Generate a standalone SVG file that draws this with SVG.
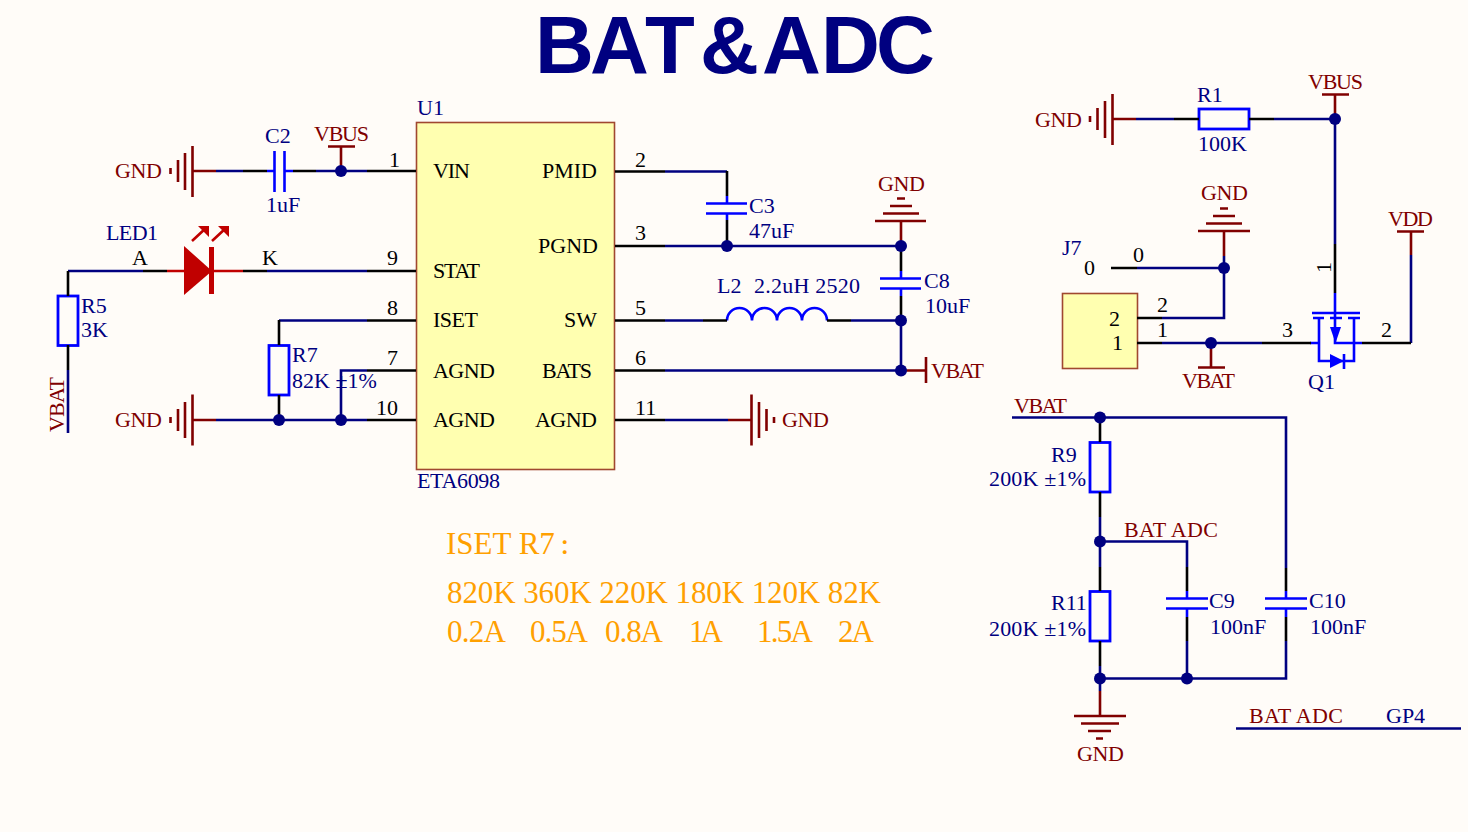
<svg xmlns="http://www.w3.org/2000/svg" width="1468" height="832" viewBox="0 0 1468 832">
<style>
text{font-family:"Liberation Serif","Noto Sans CJK SC",serif;font-size:22px}
.d{fill:#000080}.r{fill:#800000}.k{fill:#000}.o{fill:#FFA000;font-size:31px}
.m{text-anchor:middle}.e{text-anchor:end}
.w,.p,.b,.g,.l{fill:none;stroke-linecap:butt}
.w{stroke:#000080;stroke-width:2.6}
.p{stroke:#000;stroke-width:2.6}
.b{stroke:#0000FF;stroke-width:2.6}
.g{stroke:#800000;stroke-width:2.6}
.l{stroke:#C00000;stroke-width:2.6}
.j{fill:#000080}
.ic{fill:#FFFFB0;stroke:#A04830;stroke-width:1.6}
.res{fill:none;stroke:#0000FF;stroke-width:2.8}
</style>
<rect id="background" width="1468" height="832" fill="#FFFCF8"/>
<text id="title" x="535 590 645 700 762 821 876" y="73" fill="#000080" style="font-family:'Liberation Sans',sans-serif;font-weight:bold;font-size:81.500px">BAT&amp;ADC</text>

<g id="U1">
<rect class="ic" x="416.500" y="122.500" width="198" height="347"/>
<text class="d" x="417" y="115">U1</text>
<text class="d" x="417" y="488" textLength="83">ETA6098</text>
<text class="k" x="433" y="177.500" textLength="37">VIN</text><text class="k" x="433" y="278" textLength="47">STAT</text><text class="k" x="433" y="327" textLength="45">ISET</text><text class="k" x="433" y="377.500" textLength="62">AGND</text><text class="k" x="433" y="427" textLength="62">AGND</text>
<text class="k e" x="597" y="177.500">PMID</text><text class="k" x="538" y="252.500" textLength="60">PGND</text><text class="k e" x="597" y="327">SW</text><text class="k" x="542" y="377.500" textLength="50">BATS</text><text class="k" x="535" y="427" textLength="62">AGND</text>
<text class="k" x="389" y="167">1</text><text class="k" x="387" y="265">9</text><text class="k" x="387" y="315">8</text><text class="k" x="387" y="365">7</text><text class="k" x="376" y="415">10</text>
<text class="k" x="635" y="167">2</text><text class="k" x="635" y="240">3</text><text class="k" x="635" y="315">5</text><text class="k" x="635" y="365">6</text><text class="k" x="635" y="415">11</text>
</g>

<g id="GND1"><path class="g" d="M192 171H216M192.500 146V197M185 153V190M178 160V182M170.500 168V174"/><text class="r" x="115" y="178" textLength="47">GND</text></g>
<g id="C2"><path class="b" d="M267 171H274M284 171H293M274.500 151V192M284.500 151V192"/><text class="d" x="265" y="143">C2</text><text class="d" x="266" y="212">1uF</text></g>
<g id="VBUS1"><path class="g" d="M341 171V146.500M328 146.500H355"/><text class="r" x="314" y="141" textLength="55">VBUS</text></g>
<g id="LED1"><path class="l" d="M167 271H243"/><path d="M184 246L212 271L184 295Z" fill="#C00000"/><rect x="209" y="247" width="5" height="47" fill="#C00000"/><path class="l" d="M192 241L206 228M212 241L226 228"/><path d="M198 226H209V237ZM218 226H229V237Z" fill="#C00000"/><text class="d" x="106" y="240" textLength="52">LED1</text><text class="k" x="132" y="265">A</text><text class="k" x="262" y="265">K</text></g>
<g id="R5"><rect class="res" x="58" y="296" width="20" height="49.500"/><text class="d" x="81" y="313">R5</text><text class="d" x="81" y="337">3K</text></g>
<g id="VBAT1"><text class="r" transform="translate(64 432) rotate(-90)" textLength="55">VBAT</text></g>
<g id="R7"><rect class="res" x="269" y="345.500" width="20" height="49.500"/><text class="d" x="292" y="362">R7</text><text class="d" x="292" y="388">82K ±1%</text></g>
<g id="GND2"><path class="g" d="M192 420H216M192.500 394.500V445.500M185 402V438M178 409V431M170.500 417V423"/><text class="r" x="115" y="427" textLength="47">GND</text></g>
<g id="C3"><path class="b" d="M727 196V203M727 213V220M706 203.500H747M706 213.500H747"/><text class="d" x="749" y="213">C3</text><text class="d" x="749" y="238">47uF</text></g>
<g id="GND3"><path class="g" d="M901 246V221M875 221H926M883 213.500H919M890 206H912M897 198.500H905"/><text class="r" x="878" y="191" textLength="47">GND</text></g>
<g id="C8"><path class="b" d="M901 271V278M901 288V296M880 278.500H921M880 288.500H921"/><text class="d" x="924" y="288">C8</text><text class="d" x="925" y="313">10uF</text></g>
<g id="L2"><path class="b" d="M727 320.500a12.500 12.500 0 0 1 25 0a12.500 12.500 0 0 1 25 0a12.500 12.500 0 0 1 25 0a12.500 12.500 0 0 1 25 0"/><text class="d" x="717" y="293">L2</text><text class="d" x="754" y="293" textLength="106">2.2uH 2520</text></g>
<g id="VBAT2"><path class="g" d="M901 370.500H926M926 357V383"/><text class="r" x="931" y="378" textLength="53">VBAT</text></g>
<g id="GND4"><path class="g" d="M728 420H751M751.500 394.500V445.500M759 402V438M766.500 409V431M774 417V423"/><text class="r" x="782" y="427" textLength="47">GND</text></g>

<g id="GND5"><path class="g" d="M1112 119H1136M1112.500 94V145M1105 101V138M1097.500 108V130M1090 116V122"/><text class="r" x="1035" y="127" textLength="47">GND</text></g>
<g id="R1"><rect class="res" x="1199" y="109" width="50" height="20"/><text class="d" x="1197" y="102">R1</text><text class="d" x="1198" y="151">100K</text></g>
<g id="VBUS2"><path class="g" d="M1335 119V94.500M1322 94.500H1349"/><text class="r" x="1308" y="89" textLength="55">VBUS</text></g>
<g id="GND6"><path class="g" d="M1224 256V231M1198 231H1250M1206 223.500H1242M1213 216H1235M1220 208.500H1228"/><text class="r" x="1201" y="200" textLength="47">GND</text></g>
<g id="J7"><rect class="ic" x="1062.500" y="293.500" width="75" height="75"/><text class="d" x="1062" y="255">J7</text><text class="k" x="1084" y="275">0</text><text class="k" x="1133" y="262">0</text><text class="k" x="1157" y="312">2</text><text class="k" x="1157" y="337">1</text><text class="k" x="1109" y="326">2</text><text class="k" x="1112" y="350">1</text></g>
<g id="VBAT3"><path class="g" d="M1211 343V367.500M1198 367.500H1225"/><text class="r" x="1182" y="388" textLength="53">VBAT</text></g>
<g id="Q1"><path class="b" d="M1335 293V343H1362M1312 313H1360M1313 318H1324M1330 318H1342M1348 318H1360M1310 343H1319M1319 318V361H1354V318M1344 354V369"/><path d="M1330 327H1341L1335.500 343ZM1330 354L1344 361L1330 368Z" fill="#0000FF"/><text class="d" x="1308" y="389">Q1</text><text class="k" x="1282" y="337">3</text><text class="k" x="1381" y="337">2</text><text class="k" transform="translate(1331 273) rotate(-90)">1</text></g>
<g id="VDD"><path class="g" d="M1411 255V231.500M1397 231.500H1424"/><text class="r" x="1388" y="226" textLength="45">VDD</text></g>
<g id="VBAT4"><text class="r" x="1014" y="413" textLength="53">VBAT</text></g>
<g id="R9"><rect class="res" x="1090" y="442.500" width="20" height="49.500"/><text class="d" x="1051" y="462">R9</text><text class="d" x="989" y="486" textLength="97">200K ±1%</text></g>
<g id="BAT_ADC1"><text class="r" x="1124" y="537" textLength="94">BAT ADC</text></g>
<g id="R11"><rect class="res" x="1090" y="591.500" width="20" height="49.500"/><text class="d" x="1051" y="610">R11</text><text class="d" x="989" y="636" textLength="97">200K ±1%</text></g>
<g id="C9"><path class="b" d="M1187 591V598M1187 608V617M1166 598.500H1208M1166 608.500H1208"/><text class="d" x="1209" y="608">C9</text><text class="d" x="1210" y="634">100nF</text></g>
<g id="C10"><path class="b" d="M1286 591V598M1286 608V617M1265 598.500H1307M1265 608.500H1307"/><text class="d" x="1309" y="608">C10</text><text class="d" x="1310" y="634">100nF</text></g>
<g id="GND7"><path class="g" d="M1100 691V716M1074 716H1126M1081 723.500H1119M1088 731H1111M1096 738.500H1103"/><text class="r" x="1077" y="761" textLength="47">GND</text></g>
<g id="net-label"><text class="r" x="1249" y="723" textLength="94">BAT ADC</text><text class="d" x="1386" y="723">GP4</text></g>

<g id="notes">
<text class="o" x="446" y="554">ISET R7<tspan style="font-size:20px;font-weight:bold" dx="5">：</tspan></text>
<text class="o" x="447" y="603" textLength="434">820K 360K 220K 180K 120K 82K</text>
<text class="o" x="447" y="642" textLength="59">0.2A</text><text class="o" x="530" y="642" textLength="58">0.5A</text><text class="o" x="605" y="642" textLength="58">0.8A</text><text class="o" x="689" y="642" textLength="34">1A</text><text class="o" x="757" y="642" textLength="56">1.5A</text><text class="o" x="838" y="642" textLength="36">2A</text>
</g>

<g id="connectors">
<path class="w" d="M216 171H243M316 171H367M68 271H143M68 370V433M267 271H367M279 320.500H367M341 420V370.500H367M216 420H367"/>
<path class="w" d="M665 171.500H727M665 246H901M665 320.500H703M851 320.500H901M901 320V370M665 370.500H901M665 420H728"/>
<path class="w" d="M1136 119H1174M1274 119H1335M1335 119V244M1162 343H1262M1162 318H1224V268M1137 268H1224M1411 343V255M1224 256V268"/>
<path class="w" d="M1012 417.500H1286V568M1286 641V678.500H1100M1100 517V567M1100 541.500H1187V567M1187 641V678M1100 666V691M1236 728.500H1461"/>
<path class="p" d="M243 171H267M293 171H316M367 171H416M143 271H167M243 271H267M367 271H416M367 320.500H416M367 370.500H416M367 420H416"/>
<path class="p" d="M68 271V296M68 345V370M279 320V345M279 395V420"/>
<path class="p" d="M615 171.500H665M615 246H665M615 320.500H665M615 370.500H665M615 420H665M727 171V196M727 220V246M901 246V271M901 296V320M703 320.500H727M827 320.500H851"/>
<path class="p" d="M1174 119H1199M1249 119H1274M1335 244V293M1111 268H1137M1137 318H1162M1137 343H1162M1262 343H1311M1362 343H1411"/>
<path class="p" d="M1100 417V442M1100 492V517M1100 567V591M1100 641V666M1187 567V591M1187 617V641M1286 568V591M1286 617V641"/>
<circle class="j" cx="341" cy="171" r="6"/>
<circle class="j" cx="279" cy="420" r="6"/>
<circle class="j" cx="341" cy="420" r="6"/>
<circle class="j" cx="727" cy="246" r="6"/>
<circle class="j" cx="901" cy="246" r="6"/>
<circle class="j" cx="901" cy="320.500" r="6"/>
<circle class="j" cx="901" cy="370.500" r="6"/>
<circle class="j" cx="1335" cy="119" r="6"/>
<circle class="j" cx="1224" cy="268" r="6"/>
<circle class="j" cx="1211" cy="343" r="6"/>
<circle class="j" cx="1100" cy="417.500" r="6"/>
<circle class="j" cx="1100" cy="541.500" r="6"/>
<circle class="j" cx="1100" cy="678.500" r="6"/>
<circle class="j" cx="1187" cy="678.500" r="6"/>
</g>
</svg>
